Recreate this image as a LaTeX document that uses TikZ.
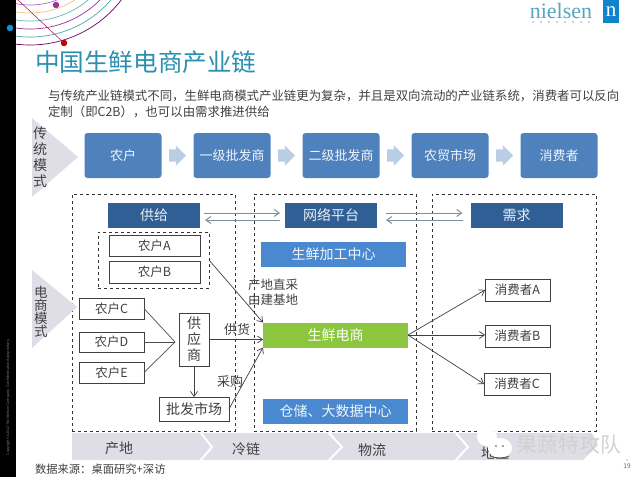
\documentclass[tikz,border=0pt]{standalone}
\usepackage{xcolor}
\usepackage{fontspec}
\setmainfont{Noto Sans CJK SC}
\newfontfamily\logofont{Liberation Serif}
\usepackage{tikz}
\usetikzlibrary{positioning}
\usetikzlibrary{shapes,shapes.arrows,calc,arrows.meta}
\definecolor{chainblue}{HTML}{4F81BD}
\definecolor{headblue}{HTML}{2F5F95}
\definecolor{midblue}{HTML}{4A88D0}
\definecolor{freshgreen}{HTML}{8CC63F}
\definecolor{titleblue}{HTML}{2A8FB0}
\definecolor{pale}{HTML}{DFDEE7}
\definecolor{inktext}{HTML}{404040}
\newcommand{\fsize}[1]{\fontsize{#1}{#1}\selectfont}
\newcommand{\fline}[2]{\fontsize{#1}{#2}\selectfont}
\tikzset{
	>={Straight Barb[length=5pt,width=7pt]},
	every node/.style = {inner sep=0pt, outer sep=0pt, text=inktext},
	chainbox/.style = {rounded corners=3pt, fill=chainblue, minimum width=77pt, minimum height=45pt, text=white!92!chainblue, font=\fsize{13}},
	blockarrow/.style = {single arrow, fill=chainblue!40!white, text height=12pt, text depth=0pt, minimum height=17pt, minimum width=20pt, single arrow head extend=4pt},
	headbox/.style = {fill=headblue, minimum width=92pt, minimum height=25pt, text=white!90!headblue, font=\fsize{14}},
	midbox/.style = {fill=midblue, minimum width=145pt, minimum height=25pt, text=white!92!midblue, font=\fsize{14}},
	dashbox/.style = {draw=black!80, dashed, line width=0.7pt},
	farmbox/.style = {draw=black!75, line width=0.8pt, fill=white, font=\fsize{12.5}},
	flow/.style = {->, draw=black!75, line width=0.7pt},
	swap/.style = {->, draw=black!35!cyan!30!gray, line width=1pt},
	plain/.style = {draw=black!70, line width=0.7pt},
	lbl/.style = {font=\fsize{13}, align=center},
	sidelbl/.style = {align=center},
}
\begin{document}
\begin{tikzpicture}[x=1pt,y=-1pt]
	\useasboundingbox (0,0) rectangle (640,477);
	% rings in the corner
	\begin{scope}
		\clip (16,0) rectangle (130,50);
		\foreach \r/\c in {115/violet!80!black,107/teal!70,99/violet!80,91/teal!60,83/orange!50,75/violet!60,67/yellow!80!orange,59/teal!50}
			\draw[\c, line width=0.7pt] (30,-70) circle (\r);
	\end{scope}
	\fill[black] (0,0) rectangle (16,477);
	\coordinate (ringtop) at (18,0);
	\node (dotred) [circle, fill=red!75!black, minimum size=6.5pt] at (64,43) {};
	\node (dotviolet) [circle, fill=violet!80, minimum size=6.5pt] at (56,5) {};
	\node (dotcyan) [circle, fill=cyan!80!blue, minimum size=6.5pt] at (10,28) {};
	\draw[violet!60!red, line width=0.5pt] (ringtop) -- (dotred);
	\node (copy) [rotate=90, text=gray, font=\fsize{3.6}] at (8,397) {Copyright ©2012 The Nielsen Company. Confidential and proprietary.};

	% logo
	\node (logo) [text=titleblue!80, font=\logofont\fsize{22}] at (561,11) {nielsen};
	\foreach \i in {0,...,7}
		\fill[gray!70] (533+\i*8,22) circle (0.8);
	\node (logobox) [fill=cyan!65!blue, minimum width=16pt, minimum height=23pt, text=white, font=\logofont\fsize{21}] at (611,11.5) {n};

	% heading
	\node (title) [anchor=west, text=titleblue, font=\fsize{24.6}] at (35,62) {中国生鲜电商产业链};
	\node (introa) [anchor=west, font=\fsize{12.42}] at (48,96) {与传统产业链模式不同，生鲜电商模式产业链更为复杂，并且是双向流动的产业链系统，消费者可以反向};
	\node (introb) [anchor=west, font=\fsize{12.42}] at (48,112) {定制（即C2B），也可以由需求推进供给};

	% traditional row
	\fill[pale] (32,118) -- (78,157) -- (32,197) -- cycle;
	\node (oldlbl) [sidelbl, font=\fline{14}{16}] at (40,157) {传\\统\\模\\式};
	\node (farmer) [chainbox] at (123,155.5) {农户};
	\node (whole) [chainbox, right = 32pt of farmer] {一级批发商};
	\node (second) [chainbox, right = 32pt of whole] {二级批发商};
	\node (market) [chainbox, right = 32pt of second] {农贸市场};
	\node (buyer) [chainbox, right = 32pt of market] {消费者};
	\node (stepa) [blockarrow, right = 7.5pt of farmer] {};
	\node (stepb) [blockarrow, right = 7.5pt of whole] {};
	\node (stepc) [blockarrow, right = 7.5pt of second] {};
	\node (stepd) [blockarrow, right = 7.5pt of market] {};

	% three dashed groups
	\node (supplyzone) [dashbox, minimum width=163pt, minimum height=237pt] at (153.5,312.5) {};
	\node (platformzone) [dashbox, minimum width=162pt, minimum height=237pt] at (335,312.5) {};
	\node (demandzone) [dashbox, minimum width=164pt, minimum height=237pt] at (514,312.5) {};

	\node (supply) [headbox] at (154,215.5) {供给};
	\node (platform) [headbox] at (331,215.5) {网络平台};
	\node (demand) [headbox] at (516.5,215.5) {需求};
	\draw[swap] ([shift={(4,-2.5)}]supply.east) -- ([shift={(-5,-2.5)}]platform.west);
	\draw[swap] ([shift={(-5,4.5)}]platform.west) -- ([shift={(5,4.5)}]supply.east);
	\draw[swap] ([shift={(9,-2.5)}]platform.east) -- ([shift={(-8,-2.5)}]demand.west);
	\draw[swap] ([shift={(-8,4.5)}]demand.west) -- ([shift={(9,4.5)}]platform.east);

	\node (process) [midbox] at (333.5,254.5) {生鲜加工中心};
	\node (fresh) [midbox, fill=freshgreen, text=white] at (335.5,335) {生鲜电商};
	\node (store) [midbox] at (335.5,411) {仓储、大数据中心};

	% farmers
	\node (groupab) [dashbox, minimum width=111pt, minimum height=56pt] at (153.5,260) {};
	\node (farma) [farmbox, minimum width=91pt, minimum height=21pt] at (154.5,245.5) {农户A};
	\node (farmb) [farmbox, minimum width=91pt, minimum height=22pt, below = 5pt of farma] {农户B};
	\node (farmc) [farmbox, minimum width=65pt, minimum height=21pt] at (111.5,308.5) {农户C};
	\node (farmd) [farmbox, minimum width=65pt, minimum height=20pt] at (111.5,342) {农户D};
	\node (farme) [farmbox, minimum width=65pt, minimum height=21pt] at (111.5,372.5) {农户E};
	\node (vendor) [farmbox, minimum width=30pt, minimum height=53pt, align=center, font=\fline{14}{16}] at (194,339.5) {供\\应\\商};
	\node (bulk) [farmbox, minimum width=70pt, minimum height=24pt, font=\fsize{14}] at (194,409) {批发市场};
	\coordinate (meet) at (175,342);
	\draw[plain] (farmc.east) -- (meet);
	\draw[plain] (farmd.east) -- (meet);
	\draw[plain] (farme.east) -- (meet);
	\draw[flow] (vendor.south) -- (bulk.north);
	\draw[flow] (vendor.east) -- (vendor.east -| fresh.west);
	\draw[flow] (groupab.east) -- (fresh.north west);
	\draw[flow] (bulk.east) -- (fresh.south west);
	\node (direct) [lbl, font=\fline{12.5}{15}] at (273,292) {产地直采\\由建基地};
	\node (deliver) [lbl] at (237,330) {供货};
	\node (purchase) [lbl] at (230,382) {采购};

	% consumers
	\node (usera) [farmbox, minimum width=65pt, minimum height=22pt] at (517.5,290) {消费者A};
	\node (userb) [farmbox, minimum width=65pt, minimum height=22pt] at (517.5,336) {消费者B};
	\node (userc) [farmbox, minimum width=66pt, minimum height=22pt] at (517,384) {消费者C};
	\draw[flow] (fresh.east) -- (usera.west);
	\draw[flow] (fresh.east) -- (userb.west |- fresh.east);
	\draw[flow] (fresh.east) -- (userc.west);

	% e-commerce side label
	\fill[pale] (32,270) -- (77,307) -- (32,348) -- cycle;
	\node (newlbl) [sidelbl, font=\fline{13.5}{13}] at (41,312) {电\\商\\模\\式};

	% bottom band
	\fill[pale] (72,433) -- (592,433) -- (598,445) -- (583,460) -- (72,460) -- cycle;
	\draw[white, line width=2pt] (200,432) -- (212,447) -- (200,461);
	\draw[white, line width=2pt] (328,432) -- (342,447) -- (328,461);
	\draw[white, line width=2pt] (455,432) -- (468,447) -- (455,461);
	\node (origin) [font=\fsize{14}] at (119,448) {产地};
	\node (cold) [font=\fsize{14}] at (246,449) {冷链};
	\node (logistic) [font=\fsize{14}] at (372,450) {物流};
	\node (region) [font=\fsize{14}] at (495,453) {地区};

	% watermark
	\fill[white] (487,437) ellipse (10 and 9);
	\fill[white] (500,448) ellipse (12 and 10);
	\draw[black!70, line width=0.7pt] (490,456) arc (130:50:15 and 8);
	\fill[black!70] (496,446) circle (0.9) (503,446) circle (0.9);
	\node (mark) [anchor=west, text=white!82!black, font=\fsize{21}] at (516,445) {果蔬特攻队};

	% footer
	\node (source) [anchor=west, font=\fsize{11.3}] at (35,469) {数据来源：桌面研究+深访};
	\node (page) [text=titleblue!80!black, font=\fsize{6.5}] at (627,466) {19};
	\fill[titleblue] (627,460) circle (0.7);
\end{tikzpicture}
\end{document}
